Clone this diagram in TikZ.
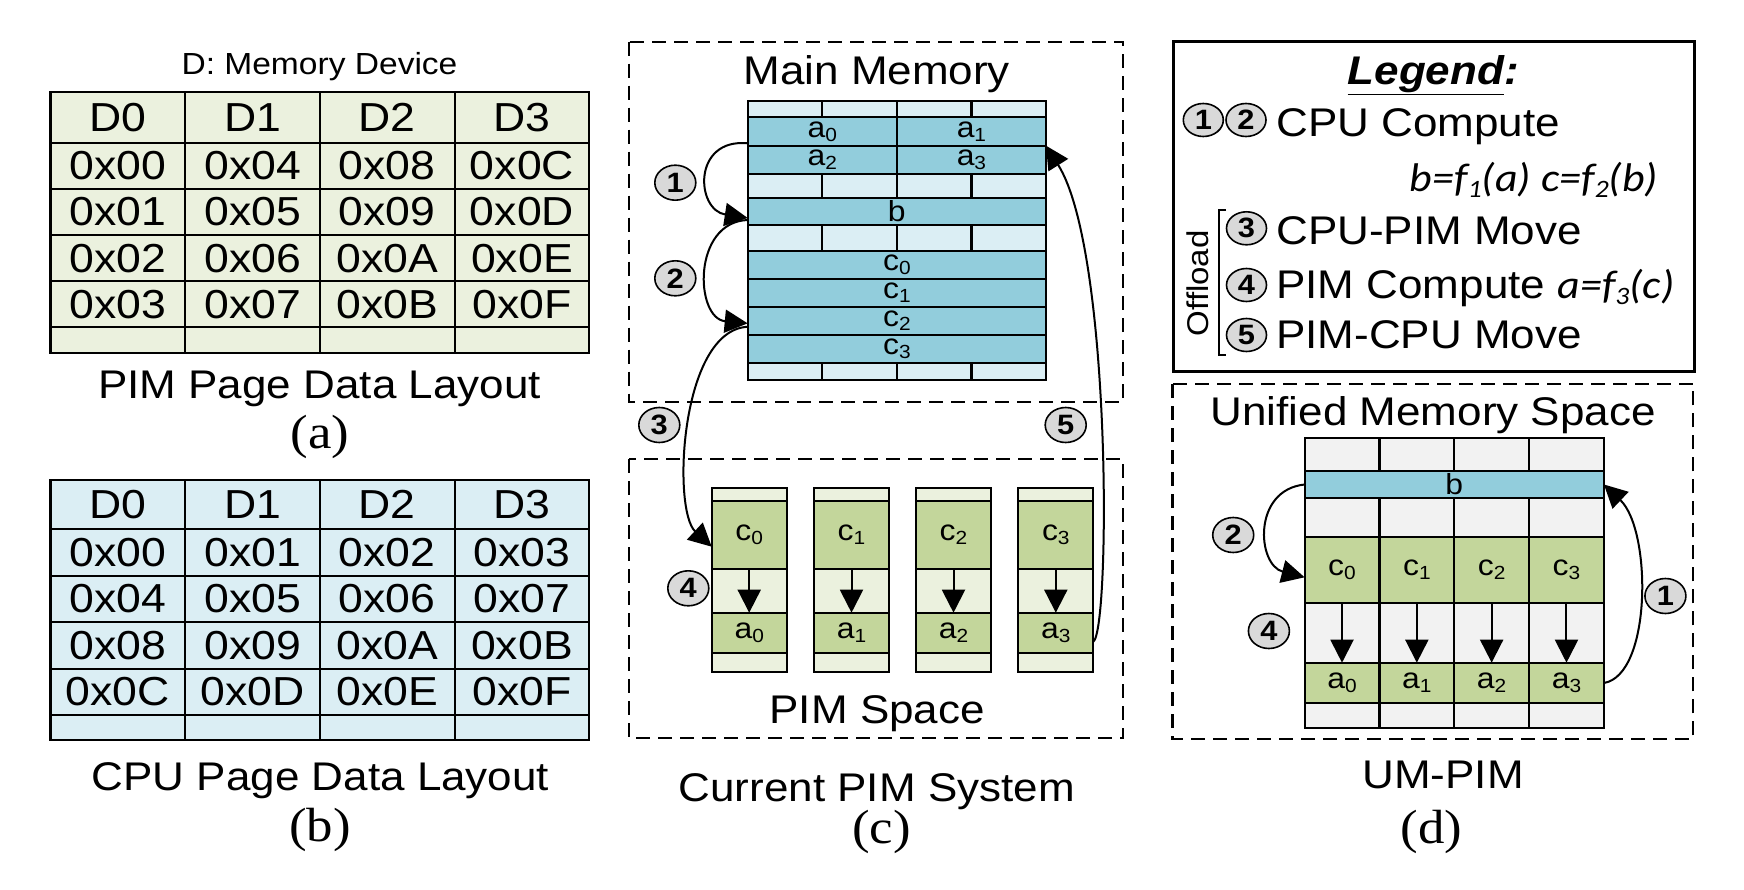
\documentclass[tikz,border=0pt]{standalone}
\usepackage{fontspec}
\setmainfont{Liberation Sans}[FakeStretch=1.1]
\newfontfamily\seriffont{Liberation Serif}[FakeStretch=1.1]
\newfontfamily\calfont{Carlito}[FakeStretch=1.1]
\usetikzlibrary{arrows.meta,shapes.geometric}
\newcommand{\setfs}[1]{\fontsize{#1}{#1}\selectfont}
\newcommand{\lowidx}[1]{\raisebox{-4pt}{\setfs{19}#1}}
\newcommand{\formidx}[1]{\raisebox{-6pt}{\setfs{25}#1}}
\definecolor{tgreen}{RGB}{235,241,222}
\definecolor{lblue}{RGB}{219,238,244}
\definecolor{mblue}{RGB}{146,205,220}
\definecolor{mgreen}{RGB}{195,214,155}
\definecolor{lgray}{RGB}{242,242,242}
\definecolor{cgray}{RGB}{217,217,217}
\tikzset{
  cellbox/.style={draw=black, line width=2.2pt, inner sep=0pt, outer sep=0pt, anchor=north west},
  tcell/.style={cellbox, minimum width=134.7pt, font=\setfs{40.5}},
  mcell/.style={cellbox, font=\setfs{29}},
  numcirc/.style={ellipse, draw=black, line width=1.6pt, fill=cgray, minimum width=41pt, minimum height=35pt, inner sep=0pt, font=\setfs{28}\bfseries},
  arr/.style={line width=2pt, -{Triangle[length=23pt,width=23pt]}},
  dbox/.style={draw=black, line width=2.2pt, dash pattern=on 14pt off 8pt},
  lbl/.style={inner sep=0pt, anchor=base},
}
\begin{document}
\begin{tikzpicture}[x=1pt,y=-1pt]
\useasboundingbox (0,0) rectangle (1744,890);

% ---------- (a) PIM page data layout ----------
\node[lbl, font=\setfs{30.5}] (devlbl) at (319.5,75) {D: Memory Device};
\foreach \t [count=\c from 0] in {D0,D1,D2,D3}
  \node[tcell, fill=tgreen, minimum height=51pt] (ta0\c) at ({50.5+134.7*\c},91.7) {\t};
\foreach \t [count=\c from 0] in {0x00,0x04,0x08,0x0C}
  \node[tcell, fill=tgreen, minimum height=46.2pt] (ta1\c) at ({50.5+134.7*\c},142.7) {\t};
\foreach \t [count=\c from 0] in {0x01,0x05,0x09,0x0D}
  \node[tcell, fill=tgreen, minimum height=46.2pt] (ta2\c) at ({50.5+134.7*\c},188.9) {\t};
\foreach \t [count=\c from 0] in {0x02,0x06,0x0A,0x0E}
  \node[tcell, fill=tgreen, minimum height=46.2pt] (ta3\c) at ({50.5+134.7*\c},235.1) {\t};
\foreach \t [count=\c from 0] in {0x03,0x07,0x0B,0x0F}
  \node[tcell, fill=tgreen, minimum height=46pt] (ta4\c) at ({50.5+134.7*\c},281.3) {\t};
\foreach \c in {0,...,3}
  \node[tcell, fill=tgreen, minimum height=25.4pt] (ta5\c) at ({50.5+134.7*\c},327.3) {};
\node[lbl, font=\setfs{40}] (capa) at (319.5,398.3) {PIM Page Data Layout};
\node[lbl, font=\seriffont\setfs{48}] (suba) at (320,448.5) {(a)};

% ---------- (b) CPU page data layout ----------
\foreach \t [count=\c from 0] in {D0,D1,D2,D3}
  \node[tcell, fill=lblue, minimum height=49.3pt] (tb0\c) at ({50.5+134.7*\c},480) {\t};
\foreach \t [count=\c from 0] in {0x00,0x01,0x02,0x03}
  \node[tcell, fill=lblue, minimum height=46.5pt] (tb1\c) at ({50.5+134.7*\c},529.3) {\t};
\foreach \t [count=\c from 0] in {0x04,0x05,0x06,0x07}
  \node[tcell, fill=lblue, minimum height=46.5pt] (tb2\c) at ({50.5+134.7*\c},575.8) {\t};
\foreach \t [count=\c from 0] in {0x08,0x09,0x0A,0x0B}
  \node[tcell, fill=lblue, minimum height=46.5pt] (tb3\c) at ({50.5+134.7*\c},622.3) {\t};
\foreach \t [count=\c from 0] in {0x0C,0x0D,0x0E,0x0F}
  \node[tcell, fill=lblue, minimum height=46.5pt] (tb4\c) at ({50.5+134.7*\c},668.8) {\t};
\foreach \c in {0,...,3}
  \node[tcell, fill=lblue, minimum height=24.7pt] (tb5\c) at ({50.5+134.7*\c},715.3) {};
\node[lbl, font=\setfs{40}] (capb) at (320.5,790) {CPU Page Data Layout};
\node[lbl, font=\seriffont\setfs{48}] (subb) at (320,841) {(b)};

% ---------- (c) Current PIM system ----------
\draw[dbox] (629,41.7) rectangle (1123.3,401.7);
\draw[dbox] (629,459.3) rectangle (1123.3,738.3);
\node[lbl, font=\setfs{40}] (mmt) at (876.7,85) {Main Memory};
\foreach \c in {0,...,3}
  \node[mcell, fill=lblue, minimum width=74.6pt, minimum height=16.3pt] (mm0\c) at ({747.7+74.575*\c},101) {};
\node[mcell, fill=mblue, minimum width=149.15pt, minimum height=28.4pt] (mma0) at (747.7,117.3) {a\lowidx{0}};
\node[mcell, fill=mblue, minimum width=149.15pt, minimum height=28.4pt] (mma1) at (896.85,117.3) {a\lowidx{1}};
\node[mcell, fill=mblue, minimum width=149.15pt, minimum height=28.3pt] (mma2) at (747.7,145.7) {a\lowidx{2}};
\node[mcell, fill=mblue, minimum width=149.15pt, minimum height=28.3pt] (mma3) at (896.85,145.7) {a\lowidx{3}};
\foreach \c in {0,...,3}
  \node[mcell, fill=lblue, minimum width=74.6pt, minimum height=23.7pt] (mm1\c) at ({747.7+74.575*\c},174) {};
\node[mcell, fill=mblue, minimum width=298.3pt, minimum height=27.6pt] (mmb) at (747.7,197.7) {b};
\foreach \c in {0,...,3}
  \node[mcell, fill=lblue, minimum width=74.6pt, minimum height=25.4pt] (mm2\c) at ({747.7+74.575*\c},225.3) {};
\foreach \i in {0,...,3}
  \node[mcell, fill=mblue, minimum width=298.3pt, minimum height=28.15pt] (mmc\i) at (747.7,{250.7+28.15*\i}) {c\lowidx{\i}};
\foreach \c in {0,...,3}
  \node[mcell, fill=lblue, minimum width=74.6pt, minimum height=16.7pt] (mm3\c) at ({747.7+74.575*\c},363.3) {};

\foreach \i/\x in {0/711.7,1/814,2/916,3/1018.3}{
  \node[mcell, fill=tgreen, minimum width=75pt, minimum height=12.7pt] (pt\i) at (\x,488.3) {};
  \node[mcell, fill=mgreen, minimum width=75pt, minimum height=68pt] (pc\i) at (\x,501) {c\lowidx{\i}};
  \node[mcell, fill=tgreen, minimum width=75pt, minimum height=43.7pt] (pm\i) at (\x,569) {};
  \node[mcell, fill=mgreen, minimum width=75pt, minimum height=40.6pt] (pa\i) at (\x,612.7) {a\lowidx{\i}};
  \node[mcell, fill=tgreen, minimum width=75pt, minimum height=18.4pt] (pb\i) at (\x,653.3) {};
  \draw[arr] (pc\i.south) -- (pa\i.north);
}
\node[lbl, font=\setfs{40}] (pimt) at (877.2,723.3) {PIM Space};
\node[lbl, font=\setfs{40}] (capc) at (876.7,801.7) {Current PIM System};
\node[lbl, font=\seriffont\setfs{48}] (subc) at (881.7,843) {(c)};

\draw[arr] ([yshift=2.4pt]mma0.south west) .. controls +(-55.7,-5.3) and +(-52,-8) .. ([yshift=-6.5pt]mmb.west);
\draw[arr] ([yshift=-8.5pt]mmb.west) .. controls +(-55.7,2) and +(-53,-5) .. ([yshift=-2.3pt]mmc2.west);
\draw[arr] ([yshift=-5.7pt]mmc2.west) .. controls +(-67.7,3.3) and +(-39.7,-36.7) .. ([yshift=-11.7pt]pc0.west);
\draw[arr] ([yshift=-8.7pt]pa3.east) .. controls +(17,-11.7) and +(66,104.3) .. (mma3.north east);

\node[numcirc] (n1m) at (675.3,182.7) {1};
\node[numcirc] (n2m) at (675.3,278.3) {2};
\node[numcirc] (n3m) at (659.3,425) {3};
\node[numcirc] (n5m) at (1065.7,425) {5};
\node[numcirc] (n4p) at (688.3,588.3) {4};

% ---------- Legend ----------
\draw[line width=3pt] (1173.2,41.7) rectangle (1694.6,371.7);
\node[lbl, font=\setfs{40}\bfseries\itshape] (legt) at (1433.2,85) {\underline{Legend}:};
\node[numcirc, minimum width=40pt, minimum height=33pt] (lg1) at (1203.3,120) {1};
\node[numcirc, minimum width=40pt, minimum height=33pt] (lg2) at (1246,120) {2};
\node[numcirc, minimum width=40pt, minimum height=33pt] (lg3) at (1246.5,228.3) {3};
\node[numcirc, minimum width=40pt, minimum height=33pt] (lg4) at (1246.5,285) {4};
\node[numcirc, minimum width=40pt, minimum height=33pt] (lg5) at (1246.5,335) {5};
\node[lbl, anchor=base west, font=\setfs{40}] (l12) at (1276.1,136.7) {CPU Compute};
\node[lbl, anchor=base east, font=\calfont\itshape\setfs{40}] (lf12) at (1658.2,191.7) {b=f\formidx{1}(a) c=f\formidx{2}(b)};
\node[lbl, anchor=base west, font=\setfs{40}] (l3) at (1276.1,245) {CPU-PIM Move};
\node[lbl, anchor=base west, font=\setfs{40}] (l4) at (1276.1,298.3) {PIM Compute {\calfont\itshape a=f\formidx{3}(c)}};
\node[lbl, anchor=base west, font=\setfs{40}] (l5) at (1276.1,348.3) {PIM-CPU Move};
\draw[line width=1.5pt] (1226.1,210) -- (1218.9,210) -- (1218.9,355) -- (1226.1,355);
\node[inner sep=0pt, rotate=90, font=\setfs{30}] (offl) at (1197.5,283.3) {Offload};

% ---------- (d) UM-PIM ----------
\draw[dbox] (1172.5,384) rectangle (1693.2,739.3);
\node[lbl, font=\setfs{40}] (umt) at (1433.2,425) {Unified Memory Space};
\foreach \c in {0,...,3}{
  \node[mcell, fill=lgray, minimum width=74.8pt, minimum height=32.4pt] (ug0\c) at ({1304.6+74.825*\c},438.3) {};
  \node[mcell, fill=lgray, minimum width=74.8pt, minimum height=38.4pt] (ug1\c) at ({1304.6+74.825*\c},498.3) {};
  \node[mcell, fill=mgreen, minimum width=74.8pt, minimum height=66.6pt] (uc\c) at ({1304.6+74.825*\c},536.7) {c\lowidx{\c}};
  \node[mcell, fill=lgray, minimum width=74.8pt, minimum height=59.4pt] (ug2\c) at ({1304.6+74.825*\c},603.3) {};
  \node[mcell, fill=mgreen, minimum width=74.8pt, minimum height=40.6pt] (ua\c) at ({1304.6+74.825*\c},662.7) {a\lowidx{\c}};
  \node[mcell, fill=lgray, minimum width=74.8pt, minimum height=25pt] (ug3\c) at ({1304.6+74.825*\c},703.3) {};
}
\node[mcell, fill=mblue, minimum width=299.3pt, minimum height=27.6pt] (ub) at (1304.6,470.7) {b};
\foreach \c in {0,...,3}
  \draw[arr] (uc\c.south) -- (ua\c.north);
\draw[arr] (ub.west) .. controls +(-52.6,5.5) and +(-47.6,-12.3) .. ([yshift=-7.3pt]uc0.west);
\draw[arr] (ua3.east) .. controls +(48,-8) and +(48,45.5) .. (ub.east);
\node[numcirc] (u2) at (1233.2,535) {2};
\node[numcirc] (u4) at (1268.9,631) {4};
\node[numcirc] (u1) at (1665.4,596) {1};
\node[lbl, font=\setfs{40}] (capd) at (1443,788.3) {UM-PIM};
\node[lbl, font=\seriffont\setfs{48}] (subd) at (1431.4,843) {(d)};
\end{tikzpicture}
\end{document}
